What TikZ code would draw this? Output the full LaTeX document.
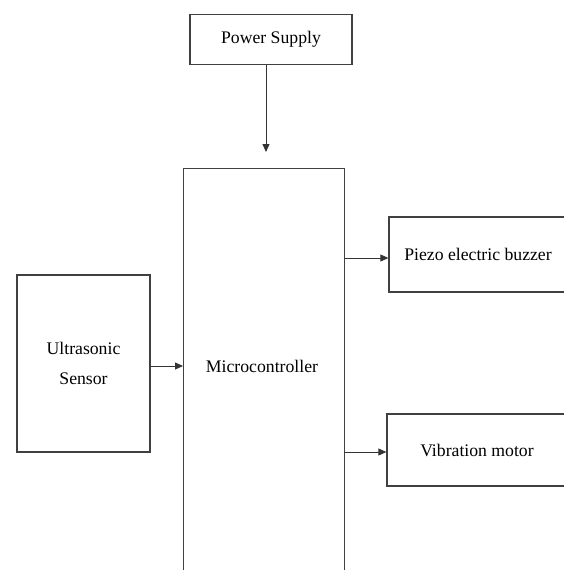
\documentclass[tikz,border=0pt]{standalone}
\usepackage{fontspec}
\setmainfont{Liberation Serif}
\usetikzlibrary{arrows.meta}
\tikzset{
  blk/.style={draw=black!75, line width=1.3pt, fill=white, rectangle, inner sep=0pt,
    font=\fontsize{17.7}{30}\selectfont},
  arr/.style={draw=black!80, line width=0.8pt, -{Triangle[length=8pt,width=7pt]}}
}
\begin{document}
\begin{tikzpicture}[x=1pt,y=-1pt]
  \useasboundingbox (0,0) rectangle (564,570);
  \clip (0,0) rectangle (564,570);
  \fill[white] (0,0) rectangle (564,570);
  \node[blk, minimum width=162pt, minimum height=50pt] (ps) at (271,39.5) {Power Supply}; %power supply
  \node[blk, minimum width=161pt, minimum height=430pt, anchor=north west] (mcu) at (183,168) {}; %micro
  \node[font=\fontsize{17.7}{30}\selectfont] (mcutext) at (262,366) {Microcontroller};
  \node[blk, minimum width=133pt, minimum height=177pt, align=center] (us) at (83.5,363.5) {Ultrasonic\\Sensor}; %sensor
  \node[blk, minimum width=178pt, minimum height=75pt] (pz) at (478,254.5) {Piezo electric buzzer}; %buzzer
  \node[blk, minimum width=180pt, minimum height=72pt] (vm) at (477,450) {Vibration motor}; %motor
  \coordinate (psend) at (266,152);
  \draw[arr] (ps.south -| psend) -- (psend);
  \draw[arr] (us.east |- mcutext) -- (mcu.west |- mcutext);
  \draw[arr] ([yshift=-3.5pt]pz.west -| mcu.east) -- ([yshift=-3.5pt]pz.west);
  \draw[arr] ([yshift=-2pt]vm.west -| mcu.east) -- ([yshift=-2pt]vm.west);
\end{tikzpicture}
\end{document}
